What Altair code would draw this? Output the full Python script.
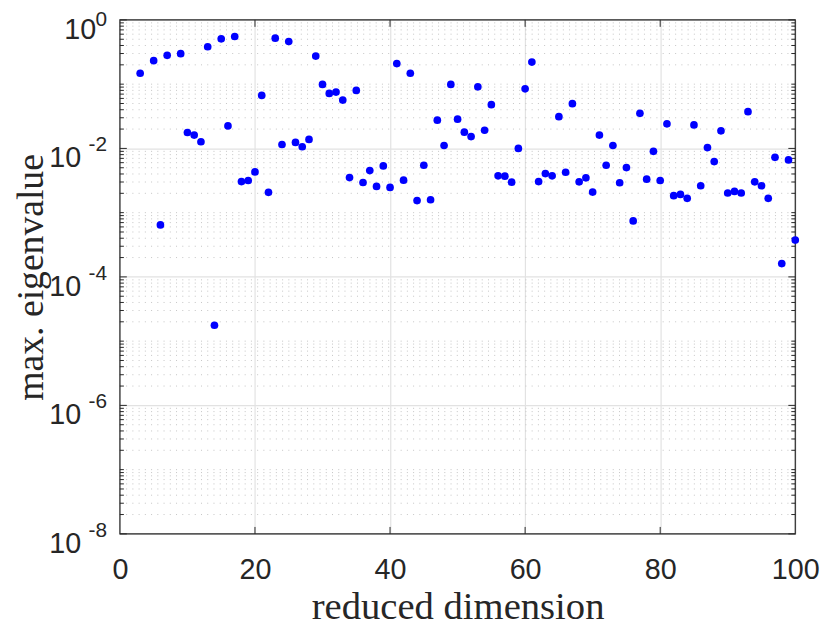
import altair as alt
import pandas as pd

# reduced dimension (x) and max. eigenvalue (y)
dims = [3, 5, 6, 7, 9, 10, 11, 12, 13, 14, 15, 16, 17, 18, 19, 20, 21, 22, 23, 24,
        25, 26, 27, 28, 29, 30, 31, 32, 33, 34, 35, 36, 37, 38, 39, 40, 41, 42, 43, 44,
        45, 46, 47, 48, 49, 50, 51, 52, 53, 54, 55, 56, 57, 58, 59, 60, 61, 62, 63, 64,
        65, 66, 67, 68, 69, 70, 71, 72, 73, 74, 75, 76, 77, 78, 79, 80, 81, 82, 83, 84,
        85, 86, 87, 88, 89, 90, 91, 92, 93, 94, 95, 96, 97, 98, 99, 100]
max_eig = [0.148, 0.232, 6.45e-4, 0.281, 0.298, 0.0177, 0.0161, 0.0127, 0.382, 1.77e-5,
           0.508, 0.0224, 0.552, 3.05e-3, 3.17e-3, 4.3e-3, 0.0669, 2.07e-3, 0.52, 0.0115,
           0.462, 0.0124, 0.0106, 0.0138, 0.274, 0.099, 0.0718, 0.0752, 0.0566, 3.52e-3,
           0.0799, 2.95e-3, 4.52e-3, 2.56e-3, 5.34e-3, 2.47e-3, 0.209, 3.2e-3, 0.148, 1.54e-3,
           5.47e-3, 1.59e-3, 0.0275, 0.0111, 0.099, 0.0285, 0.0179, 0.0153, 0.0908, 0.0192,
           0.0479, 3.74e-3, 3.7e-3, 2.98e-3, 0.0100, 0.0847, 0.221, 3.05e-3, 4.06e-3, 3.74e-3,
           0.0312, 4.26e-3, 0.0497, 3.02e-3, 3.48e-3, 2.09e-3, 0.0161, 5.47e-3, 0.0111, 2.92e-3,
           5.03e-3, 7.44e-4, 0.0352, 3.32e-3, 9.0e-3, 3.17e-3, 0.0241, 1.84e-3, 1.92e-3, 1.67e-3,
           0.0232, 2.62e-3, 0.0103, 6.23e-3, 0.0188, 2.02e-3, 2.14e-3, 2.02e-3, 0.0373, 3.02e-3,
           2.62e-3, 1.67e-3, 7.26e-3, 1.61e-4, 6.62e-3, 3.74e-4]

x_ticks = [0, 20, 40, 60, 80, 100]
x_inner_ticks = [20, 40, 60, 80]
y_major = [1, 1e-2, 1e-4, 1e-6, 1e-8]
y_exp = ["0", "-2", "-4", "-6", "-8"]
y_minor = [m * 10.0 ** k for k in range(-8, 0) for m in range(1, 10)
           if not (m == 1 and k % 2 == 0)]

W, H = 682, 519
TXT = "#262626"

pts = pd.DataFrame({"dim": dims, "val": max_eig})
major_df = pd.DataFrame({"val": y_major, "exp": y_exp})
minor_df = pd.DataFrame({"val": y_minor})
xt_df = pd.DataFrame({"dim": x_inner_ticks})
frame_df = pd.DataFrame({"k": [0]})

xscale = alt.Scale(domain=[0, 100], nice=False, zero=False)
yscale = alt.Scale(type="log", domain=[1e-8, 1], nice=False)

xaxis = alt.Axis(values=x_ticks, title="reduced dimension", grid=True,
                 gridColor="#e2e2e2", gridWidth=1.2, ticks=False, tickSize=0,
                 domain=False, labelFont="Liberation Sans", labelFontSize=29,
                 labelColor=TXT, labelPadding=22, labelFlush=False,
                 labelOverlap=False, titleFont="Liberation Serif",
                 titleFontSize=39, titleFontWeight="normal", titleColor=TXT,
                 titleY=85, titleBaseline="alphabetic")
yaxis = alt.Axis(values=y_major, title="max. eigenvalue", grid=True,
                 gridColor="#e2e2e2", gridWidth=1.2, ticks=False, tickSize=0,
                 domain=False, labels=False, titleFont="Liberation Serif",
                 titleFontSize=38, titleFontWeight="normal", titleColor=TXT,
                 titleAngle=270, titleX=-78, titleY=H / 2,
                 titleBaseline="alphabetic", titleAlign="center")

minor_grid = alt.Chart(minor_df).mark_rule(
    color="#c4c4c4", strokeDash=[1, 5.3], strokeWidth=1
).encode(y=alt.Y("val:Q", scale=yscale, axis=yaxis), x=alt.value(0), x2=alt.value(W))

frame = alt.Chart(frame_df).mark_rect(
    fillOpacity=0, stroke=TXT, strokeWidth=1.2
).encode(x=alt.value(0), x2=alt.value(W), y=alt.value(0), y2=alt.value(H))

tick_style = dict(color=TXT, strokeWidth=1)
xt_bottom = alt.Chart(xt_df).mark_rule(**tick_style).encode(
    x=alt.X("dim:Q", scale=xscale, axis=xaxis), y=alt.value(H), y2=alt.value(H - 7))
xt_top = alt.Chart(xt_df).mark_rule(**tick_style).encode(
    x=alt.X("dim:Q", scale=xscale), y=alt.value(0), y2=alt.value(7))
ymaj_l = alt.Chart(major_df).mark_rule(**tick_style).encode(
    y=alt.Y("val:Q", scale=yscale), x=alt.value(0), x2=alt.value(7))
ymaj_r = alt.Chart(major_df).mark_rule(**tick_style).encode(
    y=alt.Y("val:Q", scale=yscale), x=alt.value(W), x2=alt.value(W - 7))
ymin_l = alt.Chart(minor_df).mark_rule(**tick_style).encode(
    y=alt.Y("val:Q", scale=yscale), x=alt.value(0), x2=alt.value(4))
ymin_r = alt.Chart(minor_df).mark_rule(**tick_style).encode(
    y=alt.Y("val:Q", scale=yscale), x=alt.value(W), x2=alt.value(W - 4))

points = alt.Chart(pts).mark_circle(size=60, color="#0000ff", opacity=1).encode(
    x=alt.X("dim:Q", scale=xscale), y=alt.Y("val:Q", scale=yscale))

tens0 = alt.Chart(major_df).transform_filter("datum.exp == '0'").mark_text(
    text="10", align="right", baseline="alphabetic", dy=19, fontSize=29,
    font="Liberation Sans", color=TXT
).encode(y=alt.Y("val:Q", scale=yscale), x=alt.value(-24))
tensn = alt.Chart(major_df).transform_filter("datum.exp != '0'").mark_text(
    text="10", align="right", baseline="alphabetic", dy=19, fontSize=29,
    font="Liberation Sans", color=TXT
).encode(y=alt.Y("val:Q", scale=yscale), x=alt.value(-39))
exp0 = alt.Chart(major_df).transform_filter("datum.exp == '0'").mark_text(
    align="right", baseline="alphabetic", dy=6, fontSize=21,
    font="Liberation Sans", color=TXT
).encode(y=alt.Y("val:Q", scale=yscale), x=alt.value(-13), text="exp:N")
expn = alt.Chart(major_df).transform_filter("datum.exp != '0'").mark_text(
    align="right", baseline="alphabetic", dy=3, fontSize=21,
    font="Liberation Sans", color=TXT
).encode(y=alt.Y("val:Q", scale=yscale), x=alt.value(-13), text="exp:N")

chart = alt.layer(
    minor_grid, frame, xt_bottom, xt_top, ymaj_l, ymaj_r, ymin_l, ymin_r,
    points, tens0, tensn, exp0, expn
).properties(
    width=W, height=H,
    autosize=alt.AutoSizeParams(type="none"),
    padding={"left": 113, "top": 9, "right": 27, "bottom": 91},
).configure_view(stroke=None).configure(background="white")

chart.save("out.html", embed_options={"renderer": "svg", "actions": False})
